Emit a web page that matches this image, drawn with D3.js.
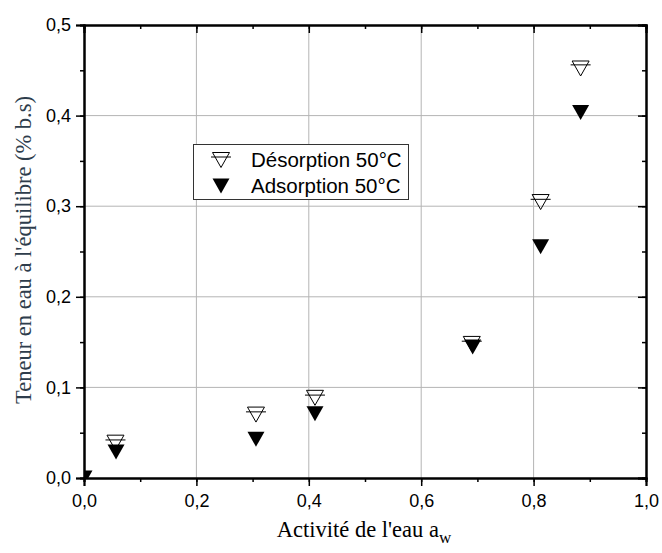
<!DOCTYPE html>
<html>
<head>
<meta charset="utf-8">
<script src="https://cdn.jsdelivr.net/npm/d3@7"></script>
<style>
body { margin: 0; background: #fff; }
</style>
</head>
<body>
<svg id="chart" width="662" height="553"></svg>
<script>
// data
var desX = [0.056, 0.306, 0.411, 0.69, 0.8125, 0.8837];
var desY = [0.039, 0.070, 0.0885, 0.148, 0.3046, 0.452];
var desErr = [0.003, 0.003, 0.003, 0.003, 0.003, 0.004];
var adsX = [0, 0.057, 0.306, 0.411, 0.6916, 0.8125, 0.8837];
var adsY = [0, 0.0287, 0.0428, 0.0708, 0.1446, 0.2553, 0.4034];
var xTicks = [0, 0.2, 0.4, 0.6, 0.8, 1.0];
var yTicks = [0, 0.1, 0.2, 0.3, 0.4, 0.5];
var legendLabels = ["Désorption 50°C", "Adsorption 50°C"];

// plot box (window.top is read-only, so no "top" here)
var plotL = 84, plotR = 646, plotT = 25, plotB = 478;
var svg = d3.select("#chart");

var x = d3.scaleLinear().domain([0, 1]).range([plotL, plotR]);
var y = d3.scaleLinear().domain([0, 0.5]).range([plotB, plotT]);

var fmt = function(d){ return d3.format(".1f")(d).replace(".", ","); };

// grid
var gridX = xTicks.filter(function(d){ return d > 0 && d < 1; });
var gridY = yTicks.filter(function(d){ return d > 0 && d < 0.5; });
svg.append("g").selectAll("line").data(gridX).enter().append("line")
    .attr("x1", d => x(d)).attr("x2", d => x(d))
    .attr("y1", plotT).attr("y2", plotB)
    .attr("stroke", "#b4b4b4").attr("stroke-width", 1);
svg.append("g").selectAll("line").data(gridY).enter().append("line")
    .attr("x1", plotL).attr("x2", plotR)
    .attr("y1", d => y(d)).attr("y2", d => y(d))
    .attr("stroke", "#b4b4b4").attr("stroke-width", 1);

// axes
function styleAxis(g) {
    g.selectAll("path").attr("stroke", "#000").attr("stroke-width", 2);
    g.selectAll("line").attr("stroke", "#000").attr("stroke-width", 1.5);
    g.selectAll("text").attr("font-family", "Liberation Sans, Arial, sans-serif")
        .attr("font-size", 18).attr("fill", "#000");
}
var xMinor = d3.range(0, 1.01, 0.1);
var yMinor = d3.range(0, 0.501, 0.05);

// minor ticks
svg.append("g").attr("transform", "translate(0," + plotB + ")")
    .call(d3.axisBottom(x).tickValues(xMinor).tickSize(4).tickFormat(""))
    .call(styleAxis);
svg.append("g").attr("transform", "translate(" + plotL + ",0)")
    .call(d3.axisLeft(y).tickValues(yMinor).tickSize(4).tickFormat(""))
    .call(styleAxis);
svg.append("g").attr("transform", "translate(0," + plotT + ")")
    .call(d3.axisTop(x).tickValues(xMinor).tickSize(-4).tickFormat(""))
    .call(styleAxis);
svg.append("g").attr("transform", "translate(" + plotR + ",0)")
    .call(d3.axisRight(y).tickValues(yMinor).tickSize(-4).tickFormat(""))
    .call(styleAxis);

// major ticks
svg.append("g").attr("transform", "translate(0," + plotB + ")")
    .call(d3.axisBottom(x).tickValues(xTicks).tickSize(8).tickPadding(8).tickFormat(fmt))
    .call(styleAxis);
svg.append("g").attr("transform", "translate(" + plotL + ",0)")
    .call(d3.axisLeft(y).tickValues(yTicks).tickSize(8).tickPadding(5).tickFormat(fmt))
    .call(styleAxis);
svg.append("g").attr("transform", "translate(0," + plotT + ")")
    .call(d3.axisTop(x).tickValues(xTicks).tickSize(-8).tickFormat(""))
    .call(styleAxis);
svg.append("g").attr("transform", "translate(" + plotR + ",0)")
    .call(d3.axisRight(y).tickValues(yTicks).tickSize(-8).tickFormat(""))
    .call(styleAxis);

// clip
svg.append("clipPath").attr("id", "plotclip").append("rect")
    .attr("x", plotL).attr("y", plotT).attr("width", plotR - plotL).attr("height", plotB - plotT);

var tri = "M-8.5,-7.5L8.5,-7.5L0,7.5Z";
var plot = svg.append("g").attr("clip-path", "url(#plotclip)");

var des = desX.map(function(d, i){ return {x: d, y: desY[i], e: desErr[i]}; });
var ads = adsX.map(function(d, i){ return {x: d, y: adsY[i]}; });

// upper error-bar caps of desorption (rest hidden by the markers)
plot.append("g").selectAll("line").data(des).enter().append("line")
    .attr("x1", d => x(d.x) - 10).attr("x2", d => x(d.x) + 10)
    .attr("y1", d => y(d.y + d.e)).attr("y2", d => y(d.y + d.e))
    .attr("stroke", "#000").attr("stroke-width", 1);

plot.append("g").selectAll("path").data(des).enter().append("path")
    .attr("d", tri)
    .attr("transform", d => "translate(" + x(d.x) + "," + y(d.y) + ")")
    .attr("fill", "none").attr("stroke", "#000").attr("stroke-width", 1);

plot.append("g").selectAll("path").data(ads).enter().append("path")
    .attr("d", tri)
    .attr("transform", d => "translate(" + x(d.x) + "," + y(d.y) + ")")
    .attr("fill", "#000");

// legend
var lg = svg.append("g");
lg.append("rect").attr("x", 193.5).attr("y", 144.5).attr("width", 215).attr("height", 55)
    .attr("fill", "#fff").attr("stroke", "#333").attr("stroke-width", 1);
var rows = [160, 186];
lg.append("line").attr("x1", 211).attr("x2", 231).attr("y1", rows[0] - 3).attr("y2", rows[0] - 3)
    .attr("stroke", "#000");
lg.append("path").attr("d", tri).attr("transform", "translate(221," + rows[0] + ")")
    .attr("fill", "none").attr("stroke", "#000");
lg.append("path").attr("d", tri).attr("transform", "translate(221," + rows[1] + ")")
    .attr("fill", "#000");
lg.selectAll("text").data(legendLabels).enter().append("text")
    .attr("x", 251).attr("y", (d, i) => rows[i] + 7)
    .attr("font-family", "Liberation Sans, Arial, sans-serif").attr("font-size", 20.5)
    .text(d => d);

// axis titles
var xt = svg.append("text").attr("x", 364).attr("y", 537)
    .attr("text-anchor", "middle")
    .attr("font-family", "Liberation Serif, serif").attr("font-size", 22.5)
    .attr("fill", "#000");
xt.append("tspan").text("Activité de l'eau a");
xt.append("tspan").attr("font-size", 17).attr("dy", 6).text("w");

svg.append("text")
    .attr("transform", "translate(31,250) rotate(-90)")
    .attr("text-anchor", "middle")
    .attr("font-family", "Liberation Serif, serif").attr("font-size", 22.5)
    .attr("fill", "#2e3d4c")
    .text("Teneur en eau à l'équilibre (% b.s)");
</script>
</body>
</html>
